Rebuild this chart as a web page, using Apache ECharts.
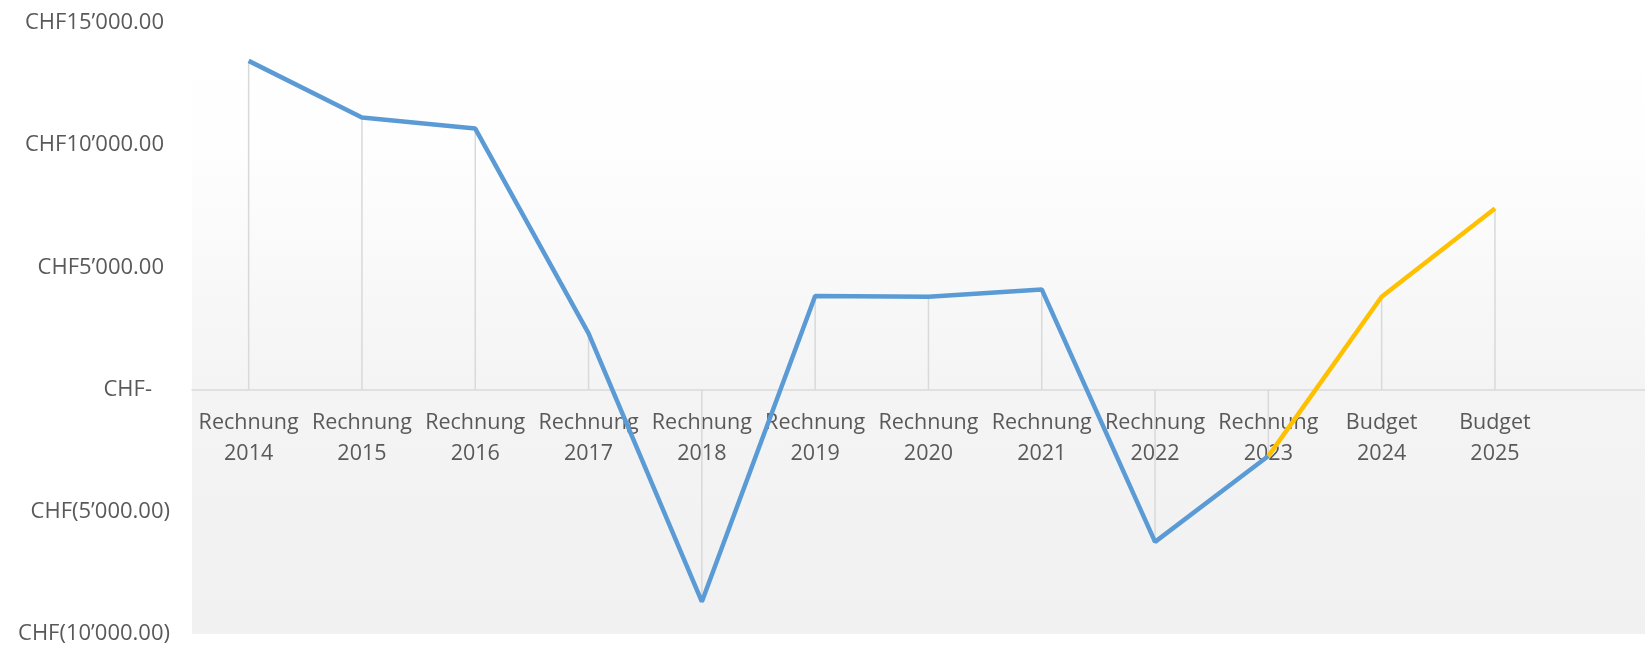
<!DOCTYPE html>
<html>
<head>
<meta charset="utf-8">
<script src="https://cdn.jsdelivr.net/npm/echarts@6/dist/echarts.min.js"></script>
<style>
html,body{margin:0;padding:0;background:#fff;}
#chart{width:1645px;height:645px;}
</style>
</head>
<body>
<div id="chart"></div>
<script>
// Data
const categories = [
  'Rechnung\n2014','Rechnung\n2015','Rechnung\n2016','Rechnung\n2017','Rechnung\n2018',
  'Rechnung\n2019','Rechnung\n2020','Rechnung\n2021','Rechnung\n2022','Rechnung\n2023',
  'Budget\n2024','Budget\n2025'
];
const rechnungValues = [13450, 11130, 10680, 2300, -8680, 3830, 3800, 4100, -6230, -2720, null, null];
const budgetValues   = [null, null, null, null, null, null, null, null, null, -2720, 3800, 7410];
const yTicks = { min: -10000, max: 15000, interval: 5000 };

const dropValues = categories.map((c, i) => rechnungValues[i] != null ? rechnungValues[i] : budgetValues[i]);

function fmtCHF(v) {
  if (v === 0) return '{z|CHF-}';
  const abs = Math.abs(v);
  const parts = abs.toFixed(2).split('.');
  const intPart = parts[0].replace(/\B(?=(\d{3})+(?!\d))/g, '\u2019');
  const s = intPart + '.' + parts[1];
  if (v < 0) return '{n|CHF(' + s + ')}';
  return '{p|CHF' + s + '}';
}

const yFont = { fontFamily: 'Open Sans', fontSize: 22, color: '#595959' };
const xFont = { fontFamily: 'Open Sans', fontSize: 21.5, color: '#595959' };

const W = 1645, H = 645;
const gridTop = 23, gridBottom = 11;
const plotH = H - gridTop - gridBottom;
// distance from the zero line to the bottom edge of the plot
const zeroFromBottom = plotH * (0 - yTicks.min) / (yTicks.max - yTicks.min);
const xCats = categories.concat(['']);

const chart = echarts.init(document.getElementById('chart'), null, { renderer: 'canvas' });
chart.setOption({
  animation: false,
  backgroundColor: '#ffffff',
  grid: {
    left: 192, top: gridTop, bottom: gridBottom, width: 113.3 * xCats.length,
    outerBoundsMode: 'none',
    containLabel: false,
    show: true, borderWidth: 0,
    backgroundColor: new echarts.graphic.LinearGradient(0, 0, 0, 1, [
      { offset: 0, color: '#ffffff' },
      { offset: 0.2, color: '#fefefe' },
      { offset: 0.6, color: '#f4f4f4' },
      { offset: 1, color: '#f1f1f1' }
    ])
  },
  xAxis: [
    {
      type: 'category',
      data: xCats,
      boundaryGap: true,
      axisLine: { show: true, onZero: true, lineStyle: { color: '#d9d9d9', width: 1.5 } },
      axisTick: { show: false },
      splitLine: { show: false },
      axisLabel: { show: false }
    },
    {
      type: 'category',
      data: xCats,
      position: 'bottom',
      offset: -zeroFromBottom,
      boundaryGap: true,
      axisLine: { show: false, onZero: false },
      axisTick: { show: false },
      splitLine: { show: false },
      axisLabel: Object.assign({ margin: 18, lineHeight: 31, interval: 0, align: 'center' }, xFont)
    }
  ],
  yAxis: {
    type: 'value',
    min: yTicks.min, max: yTicks.max, interval: yTicks.interval,
    axisLine: { show: false },
    axisTick: { show: false },
    splitLine: { show: false },
    axisLabel: {
      margin: 22,
      formatter: fmtCHF,
      rich: {
        p: Object.assign({ padding: [0, 6, 0, 0] }, yFont),
        n: Object.assign({}, yFont),
        z: Object.assign({ padding: [0, 18, 0, 0] }, yFont)
      }
    }
  },
  series: [
    {
      name: 'Fall', type: 'bar', data: dropValues, barWidth: 1.5,
      itemStyle: { color: '#d9d9d9' }, z: 1, silent: true
    },
    {
      name: 'Rechnung', type: 'line', data: rechnungValues, symbol: 'none',
      lineStyle: { color: '#5B9BD5', width: 4.5 }, z: 3, connectNulls: false
    },
    {
      name: 'Budget', type: 'line', data: budgetValues, symbol: 'none',
      lineStyle: { color: '#FFC000', width: 4.5 }, z: 4
    }
  ]
});
</script>
</body>
</html>
